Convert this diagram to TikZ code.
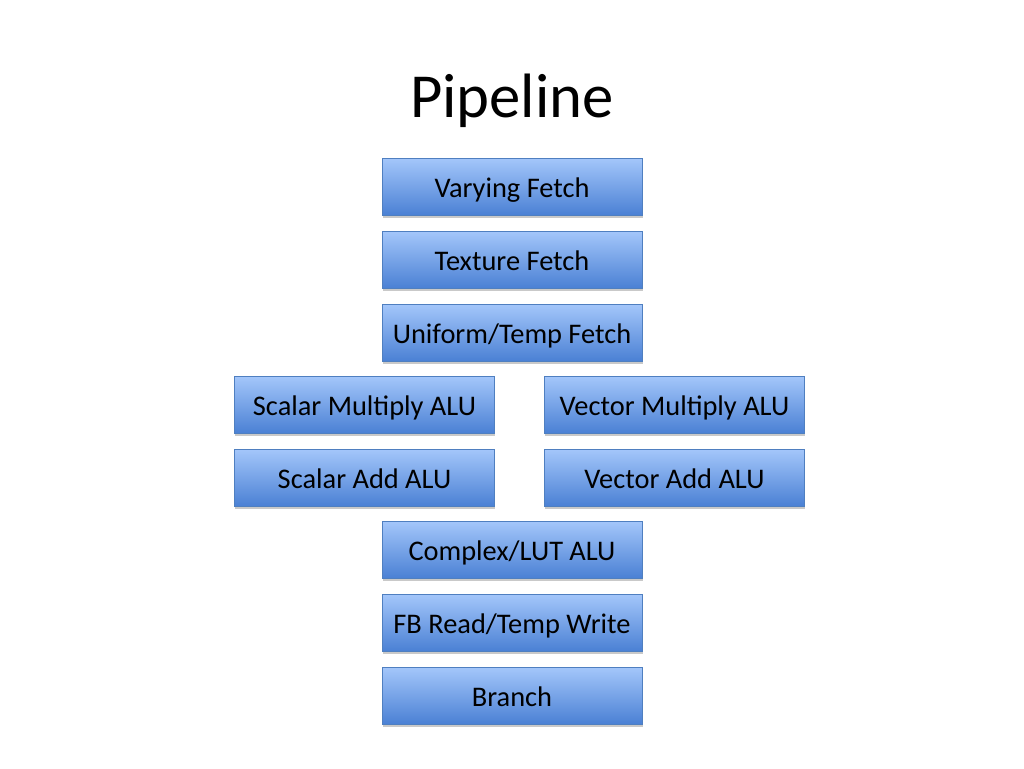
\documentclass[tikz,border=0pt]{standalone}
\usepackage{fontspec}
\setmainfont{Carlito}
\usetikzlibrary{shadows}
\definecolor{topc}{HTML}{A3C6FA}
\definecolor{botc}{HTML}{4A80D4}
\definecolor{edgec}{HTML}{4F7FC0}
\tikzset{
  stage/.style={draw=edgec, line width=0.5pt, top color=topc, bottom color=botc,
    minimum width=260*0.75pt, minimum height=57*0.75pt, inner sep=0pt,
    text height=17pt, text depth=2pt,
    font=\fontsize{21.3}{24}\selectfont, text=black,
    drop shadow={shadow xshift=0.5pt, shadow yshift=-2pt, opacity=0.35, fill=black!60}},
}
\begin{document}
\begin{tikzpicture}[x=0.75pt, y=-0.75pt]
\useasboundingbox (0,0) rectangle (1024,768);
\fill[white] (0,0) rectangle (1024,768);
\node[font=\fontsize{47}{56}\selectfont] (title) at (512,101) {Pipeline};
\node[stage] (vf) at (512,187) {Varying Fetch};
\node[stage] (tf) at (512,260) {Texture Fetch};
\node[stage] (uf) at (512,333) {Uniform/Temp Fetch};
\node[stage] (sm) at (364.5,405) {Scalar Multiply ALU};
\node[stage] (vm) at (674.5,405) {Vector Multiply ALU};
\node[stage] (sa) at (364.5,478) {Scalar Add ALU};
\node[stage] (va) at (674.5,478) {Vector Add ALU};
\node[stage] (cl) at (512,550) {Complex/LUT ALU};
\node[stage] (fb) at (512,623) {FB Read/Temp Write};
\node[stage] (br) at (512,696) {Branch};
\end{tikzpicture}
\end{document}
